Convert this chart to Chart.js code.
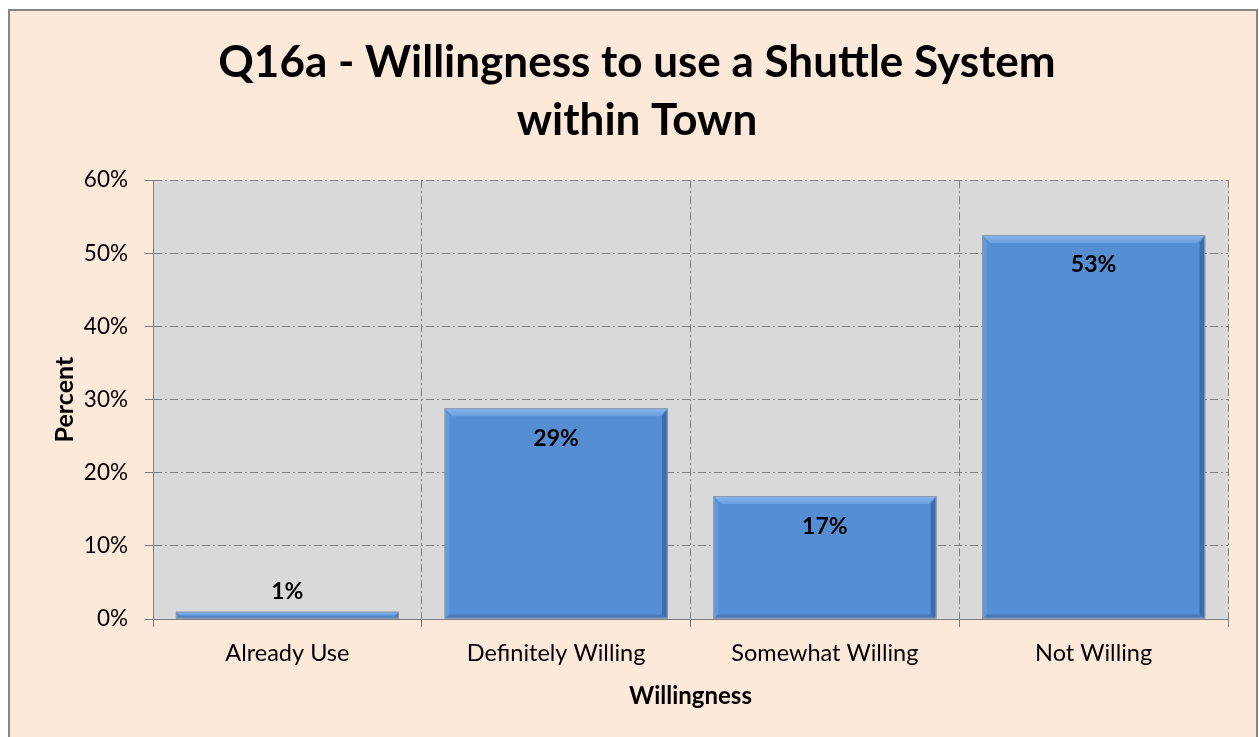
<!DOCTYPE html>
<html>
<head>
<meta charset="utf-8">
<script src="https://cdn.jsdelivr.net/npm/chart.js@4"></script>
<style>
  html, body { margin: 0; padding: 0; background: #ffffff; }
  #frame {
    position: absolute; left: 8px; top: 9px; width: 1246px; height: 740px;
    background: #FDE9D9; border: 2px solid #868686;
  }
  #wrap { position: absolute; left: 0; top: 0; width: 1259px; height: 737px; }
</style>
</head>
<body>
<div id="frame"></div>
<div id="wrap"><canvas id="chart"></canvas></div>
<script>
// ---- data ----
const categories = ['Already Use', 'Definitely Willing', 'Somewhat Willing', 'Not Willing'];
const percents = [1.0, 28.8, 16.8, 52.5];
const valueLabels = ['1%', '29%', '17%', '53%'];
const titleLines = ['Q16a - Willingness to use a Shuttle System', 'within Town'];

const FONT = "Lato, 'Open Sans', sans-serif";
const GRID = '#7F7F7F';
const DASH = [8, 3, 2, 3];

// grey plot background
const plotBg = {
  id: 'plotBg',
  beforeDraw(chart) {
    const a = chart.chartArea, ctx = chart.ctx;
    ctx.save();
    ctx.fillStyle = '#D9D9D9';
    ctx.fillRect(a.left, a.top, a.right - a.left, a.bottom - a.top);
    ctx.restore();
  }
};

// bevel look of the office-style bars + value labels
const bevel = {
  id: 'bevel',
  afterDatasetsDraw(chart) {
    const ctx = chart.ctx;
    chart.getDatasetMeta(0).data.forEach((bar, i) => {
      const l = bar.x - bar.width / 2, r = bar.x + bar.width / 2;
      const t = bar.y, b = bar.base;
      const s = Math.min(8, (b - t) / 2);
      ctx.save();
      // top light
      const g = ctx.createLinearGradient(0, t, 0, t + s);
      g.addColorStop(0, 'rgba(150,190,240,0.9)');
      g.addColorStop(1, 'rgba(120,170,235,0.6)');
      ctx.fillStyle = g;
      ctx.beginPath();
      ctx.moveTo(l, t); ctx.lineTo(r, t); ctx.lineTo(r - s, t + s); ctx.lineTo(l + s, t + s); ctx.closePath(); ctx.fill();
      // left light
      ctx.fillStyle = 'rgba(130,175,230,0.35)';
      ctx.beginPath();
      ctx.moveTo(l, t); ctx.lineTo(l + s * 0.6, t + s); ctx.lineTo(l + s * 0.6, b - s * 0.5); ctx.lineTo(l, b); ctx.closePath(); ctx.fill();
      // right dark
      ctx.fillStyle = 'rgba(35,75,130,0.5)';
      ctx.beginPath();
      ctx.moveTo(r, t); ctx.lineTo(r, b); ctx.lineTo(r - s * 0.7, b - s * 0.5); ctx.lineTo(r - s * 0.7, t + s); ctx.closePath(); ctx.fill();
      // bottom dark
      ctx.fillStyle = 'rgba(35,75,130,0.3)';
      ctx.beginPath();
      ctx.moveTo(l, b); ctx.lineTo(r, b); ctx.lineTo(r - s * 0.7, b - s * 0.5); ctx.lineTo(l + s * 0.6, b - s * 0.5); ctx.closePath(); ctx.fill();
      ctx.strokeStyle = '#8A98AC';
      ctx.lineWidth = 1;
      ctx.strokeRect(l + 0.5, t + 0.5, r - l - 1, b - t - 1);

      // value label
      ctx.fillStyle = '#000';
      ctx.font = 'bold 23px ' + FONT;
      ctx.textAlign = 'center';
      ctx.textBaseline = 'middle';
      const y = (b - t) < 40 ? t - 20 : t + 30;
      ctx.fillText(valueLabels[i], bar.x, y);
      ctx.restore();
    });
  }
};

new Chart(document.getElementById('chart'), {
  type: 'bar',
  data: {
    labels: categories,
    datasets: [{
      data: percents,
      backgroundColor: '#568ED3',
      borderWidth: 0,
      barPercentage: 0.83,
      categoryPercentage: 1.0
    }]
  },
  options: {
    responsive: true,
    maintainAspectRatio: false,
    animation: false,
    layout: { padding: { left: 46, right: 31, top: 34, bottom: 22 } },
    plugins: {
      legend: { display: false },
      tooltip: { enabled: false },
      title: {
        display: true,
        text: titleLines,
        color: '#000',
        font: { family: FONT, size: 44, weight: 'bold', lineHeight: 1.32 },
        padding: { top: 0, bottom: 30 }
      }
    },
    scales: {
      x: {
        afterFit(scale) { scale.height = 96; },
        grid: { color: GRID, tickBorderDash: [], tickLength: 8, tickColor: GRID },
        border: { display: true, color: GRID, width: 1, dash: DASH },
        ticks: { color: '#000', font: { family: FONT, size: 23.5 }, padding: 12 },
        title: {
          display: true, text: 'Willingness', color: '#000',
          font: { family: FONT, size: 24, weight: 'bold' }, padding: { top: 4 }
        }
      },
      y: {
        min: 0, max: 60,
        afterFit(scale) { scale.width = 107; },
        grid: { color: GRID, tickBorderDash: [], tickLength: 8, tickColor: GRID },
        border: { display: true, color: GRID, width: 1, dash: DASH },
        ticks: {
          stepSize: 10, color: '#000', padding: 17,
          font: { family: FONT, size: 22.5 },
          callback: v => v + '%'
        },
        title: {
          display: true, text: 'Percent', color: '#000',
          font: { family: FONT, size: 25, weight: 'bold' }, padding: { bottom: 0 }
        }
      }
    }
  },
  plugins: [plotBg, bevel]
});
</script>
</body>
</html>
